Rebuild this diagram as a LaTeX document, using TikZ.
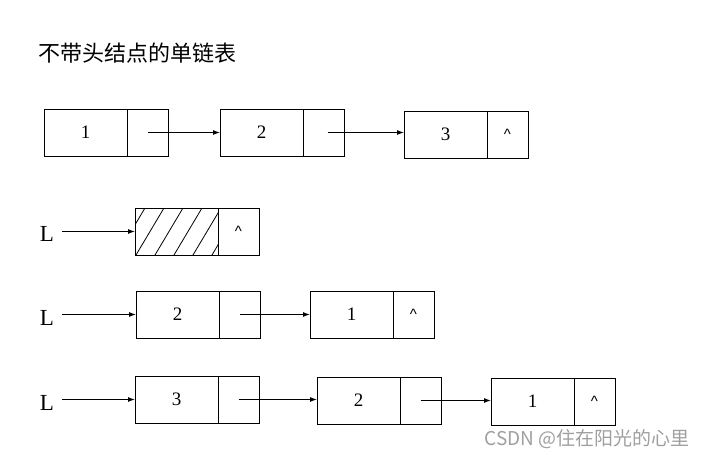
\documentclass[tikz,border=0pt]{standalone}
\usepackage{fontspec}
\setmainfont{Liberation Serif}
\newfontfamily\cjk{Noto Sans CJK SC}
\newfontfamily\hatfont{Liberation Sans}
\usetikzlibrary{arrows.meta,positioning}

\tikzset{
  datacell/.style={draw, line width=1pt, minimum width=83pt, minimum height=47pt, inner sep=0pt, outer sep=0pt, font=\fontsize{19}{19}\selectfont},
  ptrcell/.style={draw, line width=1pt, minimum width=41pt, minimum height=47pt, inner sep=0pt, outer sep=0pt, font=\hatfont\fontsize{15}{15}\selectfont},
  link/.style={line width=1pt, -{Latex[length=7pt,width=5pt]}},
  head/.style={inner sep=0pt, font=\fontsize{23}{23}\selectfont},
}

\begin{document}
\begin{tikzpicture}[x=1pt,y=-1pt]
\useasboundingbox (0,0) rectangle (705,458);

\node[anchor=west, inner sep=0pt, font=\cjk\fontsize{22}{22}\selectfont] (title) at (38,53) {不带头结点的单链表};

% list 1 -> 2 -> 3
\node[datacell, anchor=north west] (a1) at (44,109) {1};
\node[ptrcell, right=0pt of a1] (p1) {};
\node[datacell, anchor=north west] (a2) at (220,109) {2};
\node[ptrcell, right=0pt of a2] (p2) {};
\node[datacell, anchor=north west] (a3) at (404,111) {3};
\node[ptrcell, right=0pt of a3] (p3) {\textasciicircum};
\draw[link] (p1.center) -- (a2.west);
\draw[link] ([xshift=4pt]p2.center) -- (a3.west |- p2.center);

% empty list
\node[head] (L1) at (47,234) {L};
\node[datacell, anchor=north west] (h1) at (135,208) {};
\node[ptrcell, right=0pt of h1] (q1) {\textasciicircum};
\begin{scope}
  \clip (h1.south west) rectangle (h1.north east);
  \foreach \x in {117,136,...,231}
    \draw[line width=0.8pt] (\x,255) -- ++(28,-47);
\end{scope}
\draw[link, shorten <=8pt] (L1.east |- h1.west) -- (h1.west);

% L -> 2 -> 1
\node[head] (L2) at (47,318) {L};
\node[datacell, anchor=north west] (b1) at (136,291) {2};
\node[ptrcell, right=0pt of b1] (r1) {};
\node[datacell, anchor=north west] (b2) at (310,291) {1};
\node[ptrcell, right=0pt of b2] (r2) {\textasciicircum};
\draw[link, shorten <=8pt] (L2.east |- b1.west) -- (b1.west);
\draw[link] (r1.center) -- (b2.west);

% L -> 3 -> 2 -> 1
\node[head] (L3) at (47,403) {L};
\node[datacell, anchor=north west] (c1) at (135,376) {3};
\node[ptrcell, right=0pt of c1] (s1) {};
\node[datacell, anchor=north west] (c2) at (317,377) {2};
\node[ptrcell, right=0pt of c2] (s2) {};
\node[datacell, anchor=north west] (c3) at (491,378) {1};
\node[ptrcell, right=0pt of c3] (s3) {\textasciicircum};
\draw[link, shorten <=8pt] (L3.east |- c1.west) -- (c1.west);
\draw[link] (s1.center) -- (c2.west |- s1.center);
\draw[link] (s2.center) -- (c3.west |- s2.center);

\node[anchor=east, inner sep=0pt, text=gray!75, font=\cjk\fontsize{19}{19}\selectfont] (mark) at (690,439) {CSDN @住在阳光的心里};
\end{tikzpicture}
\end{document}
